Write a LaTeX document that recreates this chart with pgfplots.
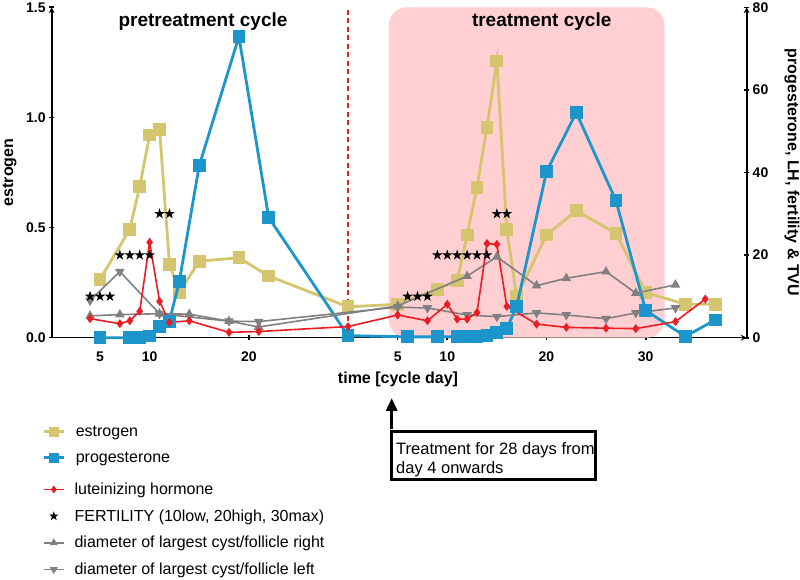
\documentclass[border=0pt]{standalone}
\usepackage{fontspec}
\setmainfont{Liberation Sans}
\usepackage{pgfplots}
\pgfplotsset{compat=1.18}
\usetikzlibrary{arrows.meta}
\definecolor{estr}{RGB}{212,197,110}
\definecolor{prog}{RGB}{28,150,202}
\definecolor{lhred}{RGB}{236,28,36}
\definecolor{cgrey}{RGB}{128,128,128}
\definecolor{pinkbg}{RGB}{255,207,210}

\pgfdeclareplotmark{fstar}{%
  \pgfpathmoveto{\pgfpointpolar{90}{\pgfplotmarksize}}%
  \pgfpathlineto{\pgfpointpolar{126}{0.382*\pgfplotmarksize}}%
  \pgfpathlineto{\pgfpointpolar{162}{\pgfplotmarksize}}%
  \pgfpathlineto{\pgfpointpolar{198}{0.382*\pgfplotmarksize}}%
  \pgfpathlineto{\pgfpointpolar{234}{\pgfplotmarksize}}%
  \pgfpathlineto{\pgfpointpolar{270}{0.382*\pgfplotmarksize}}%
  \pgfpathlineto{\pgfpointpolar{306}{\pgfplotmarksize}}%
  \pgfpathlineto{\pgfpointpolar{342}{0.382*\pgfplotmarksize}}%
  \pgfpathlineto{\pgfpointpolar{18}{\pgfplotmarksize}}%
  \pgfpathlineto{\pgfpointpolar{54}{0.382*\pgfplotmarksize}}%
  \pgfpathclose
  \pgfusepathqfill
}

\pgfplotsset{
  base/.style={at={(0pt,0pt)}, anchor=south west, scale only axis,
    width=695pt, height=330.4pt, xmin=0.13, xmax=70.18, clip=false,
    tick align=outside, major tick length=5pt,
    axis line style={-, line width=1.6pt},
    every tick/.style={black, line width=1.6pt},
    tick label style={font=\fontsize{14}{16}\selectfont\bfseries},
    legend cell align=left,
    legend image code/.code={\path[draw=none,fill=none] (0pt,-5pt) rectangle (20pt,5pt);
      \draw[mark repeat=2,mark phase=2,##1] plot coordinates {(0pt,0pt) (10pt,0pt) (20pt,0pt)};}},
  starlegend/.style={legend image code/.code={\path[draw=none,fill=none] (0pt,-5pt) rectangle (20pt,5pt);
      \draw[##1] plot[only marks] coordinates {(10pt,0pt)};}},
  lg/.style={legend style={draw=none, fill=none, inner sep=0pt, outer sep=0pt,
    column sep=10pt, row sep=#1, font=\fontsize{16}{19}\selectfont,
    nodes={inner sep=0pt}, anchor=north west}},
}

\begin{document}
\begin{tikzpicture}
\path[use as bounding box] (-51.7pt,-242.3pt) rectangle (748.3pt,337.7pt);

\begin{axis}[base, ymin=0, ymax=1.5,
  axis x line=bottom, axis y line=left,
  ytick={0,0.5,1,1.5}, yticklabels={0.0,0.5,1.0,1.5},
  xtick={5,10,20,30,35,40,50,60}, xticklabels={5,10,20,{},5,10,20,30},
  xticklabel style={yshift=-8pt},
  xlabel={time [cycle day]}, ylabel={estrogen},
  every axis x label/.style={at={(axis description cs:0.4983,-0.1262)}, anchor=center, font=\fontsize{16}{19}\selectfont\bfseries},
  every axis y label/.style={at={(axis description cs:-0.0604,0.5)}, anchor=center, rotate=90, font=\fontsize{16}{19}\selectfont\bfseries},
  lg=14pt, legend style={at={(axis description cs:-0.01252,-0.2670)}}]
\fill[pinkbg, rounded corners=18pt] (axis cs:34.1,0) rectangle (axis cs:61.9,1.5);
\draw[lhred, line width=1.6pt, dash pattern=on 5pt off 3.5pt] (axis cs:30,0) -- (axis cs:30,1.5);
\addplot[forget plot, estr, line width=2.8pt, mark=square*, mark size=5pt] table {
t v
5 0.265
8 0.492
9 0.686
10 0.920
11 0.946
12 0.334
13 0.207
15 0.347
19 0.363
22 0.280
30 0.140
35 0.152
39 0.220
41 0.260
42 0.466
43 0.683
44 0.955
45 1.256
46 0.492
47 0.186
50 0.466
53 0.577
57 0.474
60 0.205
64 0.152
67 0.152
};
\addlegendimage{estr, line width=2.8pt, mark=square*, mark size=3.5pt}
\addlegendentry{estrogen}
\addlegendimage{prog, line width=2.8pt, mark=square*, mark size=3.5pt}
\addlegendentry{progesterone}
\end{axis}

\begin{axis}[base, ymin=0, ymax=80,
  axis y line=right, hide x axis,
  ytick={0,20,40,60,80}, yticklabels={0,20,40,60,80},
  ylabel={progesterone, LH, fertility \& TVU},
  every axis y label/.style={at={(axis description cs:1.0652,0.5)}, anchor=center, rotate=-90, font=\fontsize{16}{19}\selectfont\bfseries},
  lg=13.6pt, legend style={at={(axis description cs:-0.01252,-0.4395)}}]
\addplot[forget plot, prog, line width=2.8pt, mark=square*, mark size=5pt] table {
t v
5 0
8 0
9 0
10 0.4
11 2.8
12 4.0
13 13.7
15 41.7
19 72.9
22 29.1
30 0.5
36 0.2
39 0.2
41 0.2
42 0.2
43 0.2
44 0.5
45 1.3
46 2.2
47 7.6
50 40.2
53 54.5
57 33.2
60 6.6
64 0.3
67 4.3
};
\addplot[forget plot, cgrey, line width=1.6pt, mark=triangle*, mark size=4pt] table {
t v
4 5.3
7 5.6
11 5.8
14 5.7
18 4.0
21 2.6
35 7.7
42 14.9
45 19.6
49 12.6
52 14.4
56 16.0
59 10.8
63 12.8
};
\addplot[forget plot, cgrey, line width=1.6pt, mark=triangle*, mark size=4pt, mark options={rotate=180}] table {
t v
4 9.0
7 16.0
11 5.8
18 4.0
21 3.9
35 7.4
38 7.2
42 5.5
45 5.1
49 6.0
52 5.5
56 4.6
59 6.0
63 7.2
};
\addplot[forget plot, lhred, line width=1.6pt, mark=diamond*, mark size=3.2pt] table {
t v
4 4.6
7 3.4
8 4.1
9 6.4
10 23.1
11 8.8
12 3.7
14 4.1
18 1.3
21 1.5
30 2.7
35 5.5
38 4.1
40 8.1
41 4.5
42 4.5
43 6.1
44 22.8
45 22.6
46 7.6
49 3.3
52 2.5
56 2.3
59 2.2
63 3.9
66 9.35
};
\addplot[forget plot, only marks, black, mark=fstar, mark size=5.6pt] table {
t v
4 10
5 10
6 10
7 20
8 20
9 20
10 20
11 30
12 30
36 10
37 10
38 10
39 20
40 20
41 20
42 20
43 20
44 20
45 30
46 30
};
\addlegendimage{lhred, line width=1.6pt, mark=diamond*, mark size=2.6pt}
\addlegendentry{luteinizing hormone}
\addlegendimage{black, mark=fstar, mark size=5pt, starlegend}
\addlegendentry{FERTILITY (10low, 20high, 30max)}
\addlegendimage{cgrey, line width=1.6pt, mark=triangle*, mark size=3pt}
\addlegendentry{diameter of largest cyst/follicle right}
\addlegendimage{cgrey, line width=1.6pt, mark=triangle*, mark size=3pt, mark options={rotate=180}}
\addlegendentry{diameter of largest cyst/follicle left}
\end{axis}

\node[font=\fontsize{19}{22}\selectfont\bfseries] at (151.3pt,315.7pt) {pretreatment cycle};
\node[font=\fontsize{19}{22}\selectfont\bfseries] at (490pt,315.7pt) {treatment cycle};
\draw[line width=3pt, -{Triangle[width=11pt,length=13pt]}] (340pt,-91.3pt) -- (340pt,-60.3pt);
\draw[line width=3pt] (339.3pt,-93.8pt) rectangle (543.3pt,-141.8pt);
\node[anchor=base west, inner sep=0pt, align=left, font=\fontsize{16.5}{19}\selectfont] at (344.3pt,-135.5pt) {Treatment for 28 days from\\day 4 onwards};
\end{tikzpicture}
\end{document}
